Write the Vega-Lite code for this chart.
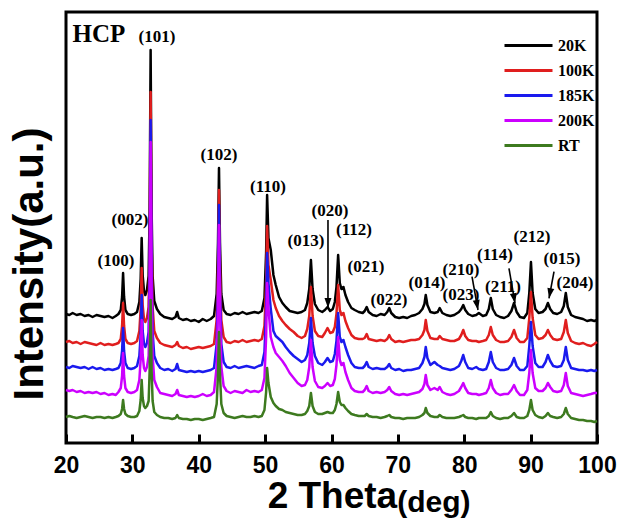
{
"$schema":"https://vega.github.io/schema/vega-lite/v6.json",
"width":531,"height":431,
"autosize":{"type":"none"},
"padding":{"left":66,"top":12,"right":36,"bottom":77},
"background":"white",
"config":{"view":{"stroke":"black","strokeWidth":3},"axisY":{"disable":true}},
"layer":[
{
"data":{"values":[
{"x":20.0,"20K":129,"100K":101,"185K":76,"200K":53,"RT":26},
{"x":20.5,"20K":128,"100K":102,"185K":75,"200K":52,"RT":27},
{"x":21.0,"20K":130,"100K":100,"185K":77,"200K":53,"RT":26},
{"x":21.6,"20K":128,"100K":101,"185K":76,"200K":51,"RT":25},
{"x":22.2,"20K":129,"100K":99,"185K":75,"200K":52,"RT":26},
{"x":22.8,"20K":127,"100K":101,"185K":76,"200K":50,"RT":27},
{"x":23.4,"20K":128,"100K":100,"185K":74,"200K":51,"RT":26},
{"x":24.0,"20K":126,"100K":99,"185K":76,"200K":50,"RT":25},
{"x":24.6,"20K":128,"100K":98,"185K":74,"200K":51,"RT":26},
{"x":25.2,"20K":127,"100K":100,"185K":75,"200K":49,"RT":26},
{"x":25.8,"20K":126,"100K":98,"185K":73,"200K":50,"RT":25},
{"x":26.4,"20K":127,"100K":99,"185K":74,"200K":48,"RT":26},
{"x":27.0,"20K":125,"100K":98,"185K":73,"200K":49,"RT":25},
{"x":27.5,"20K":127,"100K":99,"185K":74,"200K":48,"RT":26},
{"x":27.9,"20K":129,"100K":100,"185K":75,"200K":51,"RT":27},
{"x":28.25,"20K":133,"100K":104,"185K":80,"200K":55,"RT":29},
{"x":28.45,"20K":146,"100K":117,"185K":92,"200K":67,"RT":34},
{"x":28.6,"20K":170,"100K":140,"185K":115,"200K":90,"RT":43},
{"x":28.75,"20K":146,"100K":117,"185K":92,"200K":67,"RT":34},
{"x":28.95,"20K":133,"100K":104,"185K":80,"200K":55,"RT":29},
{"x":29.3,"20K":129,"100K":100,"185K":75,"200K":51,"RT":27},
{"x":29.8,"20K":128,"100K":99,"185K":74,"200K":50,"RT":26},
{"x":30.3,"20K":129,"100K":100,"185K":75,"200K":51,"RT":26},
{"x":30.7,"20K":131,"100K":102,"185K":77,"200K":53,"RT":27},
{"x":31.05,"20K":141,"100K":112,"185K":87,"200K":63,"RT":32},
{"x":31.25,"20K":164,"100K":134,"185K":108,"200K":84,"RT":43},
{"x":31.4,"20K":205,"100K":175,"185K":148,"200K":123,"RT":63},
{"x":31.55,"20K":168,"100K":138,"185K":112,"200K":88,"RT":45},
{"x":31.75,"20K":152,"100K":124,"185K":99,"200K":75,"RT":37},
{"x":31.95,"20K":148,"100K":121,"185K":96,"200K":72,"RT":35},
{"x":32.2,"20K":153,"100K":125,"185K":100,"200K":76,"RT":37},
{"x":32.45,"20K":167,"100K":136,"185K":111,"200K":87,"RT":42},
{"x":32.6,"20K":233,"100K":199,"185K":172,"200K":149,"RT":72},
{"x":32.75,"20K":393,"100K":351,"185K":323,"200K":301,"RT":143},
{"x":32.9,"20K":233,"100K":199,"185K":172,"200K":149,"RT":72},
{"x":33.05,"20K":167,"100K":136,"185K":111,"200K":87,"RT":42},
{"x":33.3,"20K":142,"100K":112,"185K":87,"200K":63,"RT":31},
{"x":33.7,"20K":134,"100K":105,"185K":80,"200K":56,"RT":28},
{"x":34.2,"20K":129,"100K":100,"185K":75,"200K":50,"RT":26},
{"x":34.8,"20K":126,"100K":98,"185K":73,"200K":49,"RT":25},
{"x":35.4,"20K":125,"100K":97,"185K":74,"200K":48,"RT":25},
{"x":36.0,"20K":124,"100K":96,"185K":72,"200K":47,"RT":24},
{"x":36.5,"20K":126,"100K":98,"185K":74,"200K":49,"RT":25},
{"x":36.75,"20K":131,"100K":101,"185K":79,"200K":53,"RT":28},
{"x":37.0,"20K":125,"100K":97,"185K":73,"200K":48,"RT":25},
{"x":37.6,"20K":123,"100K":95,"185K":72,"200K":47,"RT":24},
{"x":38.2,"20K":124,"100K":96,"185K":71,"200K":46,"RT":24},
{"x":38.8,"20K":122,"100K":94,"185K":72,"200K":47,"RT":23},
{"x":39.4,"20K":123,"100K":95,"185K":71,"200K":46,"RT":24},
{"x":40.0,"20K":121,"100K":96,"185K":72,"200K":47,"RT":24},
{"x":40.6,"20K":124,"100K":95,"185K":71,"200K":49,"RT":23},
{"x":41.2,"20K":122,"100K":96,"185K":72,"200K":47,"RT":24},
{"x":41.8,"20K":124,"100K":97,"185K":73,"200K":48,"RT":25},
{"x":42.3,"20K":127,"100K":99,"185K":75,"200K":51,"RT":26},
{"x":42.7,"20K":149,"100K":123,"185K":99,"200K":76,"RT":39},
{"x":42.9,"20K":200,"100K":176,"185K":156,"200K":134,"RT":68},
{"x":43.05,"20K":275,"100K":253,"185K":238,"200K":218,"RT":111},
{"x":43.2,"20K":200,"100K":176,"185K":156,"200K":134,"RT":68},
{"x":43.4,"20K":149,"100K":123,"185K":99,"200K":76,"RT":39},
{"x":43.75,"20K":133,"100K":106,"185K":81,"200K":57,"RT":30},
{"x":44.2,"20K":129,"100K":101,"185K":76,"200K":52,"RT":27},
{"x":44.8,"20K":128,"100K":100,"185K":75,"200K":50,"RT":26},
{"x":45.4,"20K":130,"100K":102,"185K":77,"200K":52,"RT":25},
{"x":46.0,"20K":129,"100K":101,"185K":75,"200K":51,"RT":26},
{"x":46.6,"20K":131,"100K":103,"185K":76,"200K":50,"RT":27},
{"x":47.2,"20K":129,"100K":101,"185K":77,"200K":53,"RT":26},
{"x":47.8,"20K":130,"100K":102,"185K":76,"200K":51,"RT":26},
{"x":48.4,"20K":131,"100K":103,"185K":75,"200K":52,"RT":27},
{"x":49.0,"20K":130,"100K":102,"185K":77,"200K":51,"RT":26},
{"x":49.5,"20K":132,"100K":104,"185K":78,"200K":53,"RT":27},
{"x":49.9,"20K":145,"100K":117,"185K":91,"200K":65,"RT":33},
{"x":50.15,"20K":190,"100K":160,"185K":134,"200K":106,"RT":51},
{"x":50.3,"20K":248,"100K":217,"185K":190,"200K":160,"RT":75},
{"x":50.5,"20K":205,"100K":178,"185K":160,"200K":135,"RT":60},
{"x":50.85,"20K":193,"100K":163,"185K":134,"200K":106,"RT":46},
{"x":51.25,"20K":168,"100K":143,"185K":112,"200K":96,"RT":40},
{"x":51.6,"20K":158,"100K":135,"185K":107,"200K":90,"RT":37},
{"x":52.1,"20K":146,"100K":127,"185K":104,"200K":86,"RT":34},
{"x":52.6,"20K":140,"100K":122,"185K":101,"200K":82,"RT":33},
{"x":53.1,"20K":136,"100K":118,"185K":96,"200K":77,"RT":31},
{"x":53.7,"20K":132,"100K":114,"185K":91,"200K":70,"RT":30},
{"x":54.3,"20K":131,"100K":111,"185K":87,"200K":65,"RT":29},
{"x":54.9,"20K":130,"100K":107,"185K":84,"200K":60,"RT":28},
{"x":55.5,"20K":131,"100K":105,"185K":81,"200K":57,"RT":28},
{"x":56.0,"20K":133,"100K":107,"185K":83,"200K":58,"RT":29},
{"x":56.35,"20K":140,"100K":114,"185K":88,"200K":63,"RT":32},
{"x":56.65,"20K":154,"100K":127,"185K":100,"200K":76,"RT":37},
{"x":56.9,"20K":183,"100K":156,"185K":125,"200K":103,"RT":50},
{"x":57.15,"20K":154,"100K":127,"185K":100,"200K":76,"RT":37},
{"x":57.5,"20K":139,"100K":112,"185K":87,"200K":62,"RT":31},
{"x":58.0,"20K":133,"100K":107,"185K":80,"200K":56,"RT":29},
{"x":58.6,"20K":131,"100K":106,"185K":78,"200K":55,"RT":29},
{"x":59.0,"20K":133,"100K":110,"185K":81,"200K":57,"RT":30},
{"x":59.4,"20K":136,"100K":115,"185K":85,"200K":60,"RT":31},
{"x":59.8,"20K":132,"100K":110,"185K":81,"200K":57,"RT":30},
{"x":60.2,"20K":134,"100K":111,"185K":82,"200K":58,"RT":30},
{"x":60.5,"20K":141,"100K":116,"185K":89,"200K":64,"RT":33},
{"x":60.75,"20K":156,"100K":129,"185K":102,"200K":78,"RT":39},
{"x":61.0,"20K":188,"100K":158,"185K":130,"200K":106,"RT":51},
{"x":61.25,"20K":160,"100K":133,"185K":106,"200K":83,"RT":41},
{"x":61.5,"20K":154,"100K":128,"185K":101,"200K":78,"RT":38},
{"x":61.8,"20K":156,"100K":130,"185K":103,"200K":80,"RT":38},
{"x":62.1,"20K":148,"100K":122,"185K":96,"200K":71,"RT":35},
{"x":62.5,"20K":141,"100K":115,"185K":88,"200K":63,"RT":32},
{"x":63.0,"20K":135,"100K":108,"185K":80,"200K":55,"RT":29},
{"x":63.5,"20K":133,"100K":105,"185K":76,"200K":52,"RT":28},
{"x":64.1,"20K":131,"100K":104,"185K":75,"200K":51,"RT":27},
{"x":64.7,"20K":130,"100K":104,"185K":75,"200K":51,"RT":27},
{"x":65.0,"20K":132,"100K":105,"185K":77,"200K":53,"RT":27},
{"x":65.3,"20K":136,"100K":109,"185K":81,"200K":57,"RT":29},
{"x":65.6,"20K":131,"100K":104,"185K":76,"200K":52,"RT":27},
{"x":66.2,"20K":128,"100K":103,"185K":74,"200K":50,"RT":26},
{"x":66.8,"20K":127,"100K":102,"185K":75,"200K":51,"RT":26},
{"x":67.4,"20K":129,"100K":103,"185K":74,"200K":50,"RT":25},
{"x":68.0,"20K":128,"100K":102,"185K":74,"200K":51,"RT":26},
{"x":68.4,"20K":131,"100K":104,"185K":76,"200K":53,"RT":27},
{"x":68.7,"20K":135,"100K":108,"185K":79,"200K":56,"RT":28},
{"x":69.0,"20K":130,"100K":104,"185K":75,"200K":52,"RT":26},
{"x":69.6,"20K":126,"100K":101,"185K":73,"200K":49,"RT":25},
{"x":70.2,"20K":125,"100K":102,"185K":74,"200K":48,"RT":25},
{"x":70.8,"20K":126,"100K":101,"185K":72,"200K":49,"RT":24},
{"x":71.4,"20K":125,"100K":102,"185K":73,"200K":48,"RT":25},
{"x":72.0,"20K":127,"100K":103,"185K":73,"200K":49,"RT":25},
{"x":72.6,"20K":128,"100K":103,"185K":74,"200K":50,"RT":25},
{"x":73.2,"20K":130,"100K":104,"185K":75,"200K":51,"RT":26},
{"x":73.7,"20K":134,"100K":108,"185K":80,"200K":54,"RT":28},
{"x":74.0,"20K":139,"100K":113,"185K":86,"200K":59,"RT":30},
{"x":74.2,"20K":148,"100K":123,"185K":96,"200K":68,"RT":35},
{"x":74.45,"20K":138,"100K":112,"185K":85,"200K":58,"RT":30},
{"x":74.9,"20K":131,"100K":105,"185K":78,"200K":53,"RT":27},
{"x":75.5,"20K":130,"100K":104,"185K":81,"200K":55,"RT":26},
{"x":76.0,"20K":131,"100K":104,"185K":78,"200K":53,"RT":26},
{"x":76.3,"20K":135,"100K":107,"185K":77,"200K":56,"RT":28},
{"x":76.7,"20K":130,"100K":104,"185K":75,"200K":51,"RT":26},
{"x":77.3,"20K":128,"100K":103,"185K":74,"200K":49,"RT":25},
{"x":77.9,"20K":127,"100K":102,"185K":73,"200K":48,"RT":25},
{"x":78.5,"20K":128,"100K":102,"185K":74,"200K":49,"RT":25},
{"x":79.2,"20K":131,"100K":104,"185K":77,"200K":52,"RT":26},
{"x":79.55,"20K":134,"100K":108,"185K":82,"200K":56,"RT":27},
{"x":79.85,"20K":138,"100K":113,"185K":88,"200K":60,"RT":28},
{"x":80.15,"20K":133,"100K":107,"185K":81,"200K":55,"RT":26},
{"x":80.6,"20K":129,"100K":103,"185K":75,"200K":50,"RT":25},
{"x":81.2,"20K":127,"100K":102,"185K":74,"200K":49,"RT":25},
{"x":81.8,"20K":128,"100K":102,"185K":76,"200K":49,"RT":24},
{"x":82.2,"20K":130,"100K":101,"185K":74,"200K":48,"RT":25},
{"x":82.8,"20K":127,"100K":102,"185K":73,"200K":49,"RT":25},
{"x":83.3,"20K":128,"100K":103,"185K":74,"200K":50,"RT":25},
{"x":83.7,"20K":134,"100K":108,"185K":81,"200K":55,"RT":27},
{"x":84.0,"20K":145,"100K":116,"185K":91,"200K":63,"RT":31},
{"x":84.3,"20K":134,"100K":108,"185K":81,"200K":55,"RT":27},
{"x":84.8,"20K":128,"100K":103,"185K":75,"200K":50,"RT":25},
{"x":85.4,"20K":126,"100K":101,"185K":73,"200K":48,"RT":24},
{"x":86.0,"20K":125,"100K":101,"185K":73,"200K":49,"RT":25},
{"x":86.6,"20K":127,"100K":102,"185K":74,"200K":49,"RT":25},
{"x":87.1,"20K":132,"100K":106,"185K":78,"200K":53,"RT":27},
{"x":87.5,"20K":140,"100K":113,"185K":85,"200K":58,"RT":30},
{"x":87.9,"20K":131,"100K":105,"185K":77,"200K":52,"RT":26},
{"x":88.4,"20K":126,"100K":101,"185K":73,"200K":48,"RT":25},
{"x":89.0,"20K":125,"100K":101,"185K":73,"200K":48,"RT":25},
{"x":89.5,"20K":130,"100K":105,"185K":77,"200K":53,"RT":27},
{"x":89.8,"20K":150,"100K":125,"185K":97,"200K":70,"RT":33},
{"x":90.05,"20K":181,"100K":151,"185K":121,"200K":93,"RT":43},
{"x":90.3,"20K":150,"100K":125,"185K":97,"200K":70,"RT":33},
{"x":90.7,"20K":134,"100K":108,"185K":80,"200K":55,"RT":28},
{"x":91.2,"20K":130,"100K":104,"185K":76,"200K":52,"RT":26},
{"x":91.8,"20K":131,"100K":105,"185K":76,"200K":52,"RT":25},
{"x":92.25,"20K":134,"100K":108,"185K":81,"200K":55,"RT":27},
{"x":92.6,"20K":140,"100K":113,"185K":88,"200K":60,"RT":30},
{"x":92.95,"20K":134,"100K":108,"185K":82,"200K":56,"RT":27},
{"x":93.4,"20K":130,"100K":104,"185K":77,"200K":52,"RT":26},
{"x":94.0,"20K":129,"100K":103,"185K":76,"200K":51,"RT":25},
{"x":94.6,"20K":131,"100K":104,"185K":77,"200K":52,"RT":26},
{"x":95.0,"20K":137,"100K":111,"185K":83,"200K":58,"RT":29},
{"x":95.3,"20K":150,"100K":123,"185K":96,"200K":70,"RT":35},
{"x":95.6,"20K":136,"100K":110,"185K":83,"200K":57,"RT":29},
{"x":96.1,"20K":128,"100K":102,"185K":75,"200K":50,"RT":25},
{"x":96.7,"20K":126,"100K":100,"185K":74,"200K":49,"RT":24},
{"x":97.3,"20K":125,"100K":99,"185K":73,"200K":48,"RT":23},
{"x":97.9,"20K":124,"100K":100,"185K":73,"200K":47,"RT":23},
{"x":98.5,"20K":122,"100K":98,"185K":72,"200K":48,"RT":22},
{"x":99.1,"20K":123,"100K":97,"185K":73,"200K":49,"RT":22},
{"x":99.6,"20K":122,"100K":99,"185K":72,"200K":50,"RT":21},
{"x":100.0,"20K":123,"100K":101,"185K":73,"200K":50,"RT":22}
]},
"transform":[{"fold":["20K","100K","185K","200K","RT"],"as":["series","I"]}],
"mark":{"type":"line","strokeWidth":2.5,"strokeJoin":"round"},
"encoding":{
"x":{"field":"x","type":"quantitative","scale":{"domain":[20,100],"nice":false,"zero":false},
"axis":{"values":[20,25,30,35,40,45,50,55,60,65,70,75,80,85,90,95,100],"title":null,"domain":false,"grid":false,"tickColor":"black","tickWidth":3,
"tickSize":{"condition":{"test":"datum.value % 10 === 0","value":-9},"value":-5},
"labelExpr":"datum.value % 10 === 0 ? datum.label : ''","labelFont":"Liberation Sans","labelFontWeight":"bold","labelFontSize":23,"labelColor":"black","labelPadding":20,"labelFlush":false,"labelOverlap":false,"labelBound":false}},
"y":{"field":"I","type":"quantitative","scale":{"domain":[0,431],"nice":false,"zero":false}},
"color":{"field":"series","type":"nominal","scale":{"domain":["20K","100K","185K","200K","RT"],"range":["#000000","#e01e1e","#1a1aee","#cc00ff","#3d7a1f"]},
"legend":{"orient":"none","legendX":449,"legendY":20,"title":null,"symbolType":"M-2,0 L2,0","symbolStrokeWidth":3,"symbolSize":576,"labelFont":"Liberation Serif","labelFontWeight":"bold","labelFontSize":16,"labelColor":"black","labelOffset":16,"rowPadding":3,"padding":0}}
}
},
{
"data":{"values":[
{"t":"(101)","x":33.71,"y":406},{"t":"(102)","x":43.05,"y":288},{"t":"(110)","x":50.43,"y":256},{"t":"(002)","x":29.64,"y":223},{"t":"(100)","x":27.53,"y":182},{"t":"(013)","x":56.16,"y":202},{"t":"(020)","x":59.77,"y":232},{"t":"(112)","x":63.39,"y":213},{"t":"(021)","x":65.2,"y":176},{"t":"(022)","x":68.66,"y":143},{"t":"(014)","x":74.39,"y":160},{"t":"(210)","x":79.51,"y":173},{"t":"(023)","x":79.51,"y":148},{"t":"(114)","x":84.63,"y":188},{"t":"(211)","x":85.84,"y":156},{"t":"(212)","x":90.21,"y":206},{"t":"(015)","x":94.73,"y":184},{"t":"(204)","x":96.69,"y":160}
]},
"mark":{"type":"text","font":"Liberation Serif","fontWeight":"bold","fontSize":17,"color":"black","baseline":"middle","align":"center"},
"encoding":{"x":{"field":"x","type":"quantitative"},"y":{"field":"y","type":"quantitative"},"text":{"field":"t"}}
},
{
"data":{"values":[{"t":"HCP","x":24.97,"y":409}]},
"mark":{"type":"text","font":"Liberation Serif","fontWeight":"bold","fontSize":25,"color":"black","baseline":"middle","align":"center"},
"encoding":{"x":{"field":"x","type":"quantitative"},"y":{"field":"y","type":"quantitative"},"text":{"field":"t"}}
},
{
"data":{"values":[
{"x":59.47,"y":223,"x2":59.47,"y2":135,"a":0},
{"x":81.17,"y":166.3,"x2":82.07,"y2":133,"a":349.8},
{"x":86.74,"y":174.7,"x2":87.65,"y2":139.7,"a":350.3},
{"x":93.52,"y":171.3,"x2":92.77,"y2":144.7,"a":10.6}
]},
"layer":[
{"mark":{"type":"rule","strokeWidth":1.6,"color":"black"},
"encoding":{"x":{"field":"x","type":"quantitative"},"y":{"field":"y","type":"quantitative"},"x2":{"field":"x2"},"y2":{"field":"y2"}}},
{"mark":{"type":"point","shape":"M0,0 L-0.35,-1 L0.35,-1 Z","filled":true,"color":"black","opacity":1,"size":400},
"encoding":{"x":{"field":"x2","type":"quantitative"},"y":{"field":"y2","type":"quantitative"},"angle":{"field":"a","type":"quantitative","scale":null}}}
]
},
{
"data":{"values":[{"t":"2 Theta","x":69.9,"y":-54}]},
"mark":{"type":"text","font":"Liberation Sans","fontWeight":"bold","fontSize":37,"color":"black","baseline":"middle","align":"right"},
"encoding":{"x":{"field":"x","type":"quantitative"},"y":{"field":"y","type":"quantitative"},"text":{"field":"t"}}
},
{
"data":{"values":[{"t":"(deg)","x":69.9,"y":-60}]},
"mark":{"type":"text","font":"Liberation Sans","fontWeight":"bold","fontSize":30,"color":"black","baseline":"middle","align":"left"},
"encoding":{"x":{"field":"x","type":"quantitative"},"y":{"field":"y","type":"quantitative"},"text":{"field":"t"}}
},
{
"data":{"values":[{"t":"Intensity(a.u.)","x":14.6,"y":179}]},
"mark":{"type":"text","font":"Liberation Sans","fontWeight":"bold","fontSize":42,"color":"black","baseline":"middle","align":"center","angle":270},
"encoding":{"x":{"field":"x","type":"quantitative"},"y":{"field":"y","type":"quantitative"},"text":{"field":"t"}}
}
]
}
